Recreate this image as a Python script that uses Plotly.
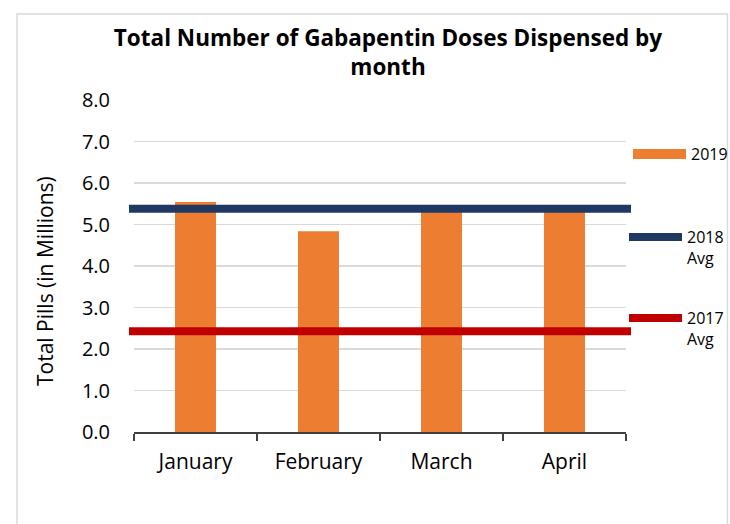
import plotly.graph_objects as go

months = ["January", "February", "March", "April"]
doses_2019 = [5.54, 4.84, 5.40, 5.38]
avg_2018 = [5.38, 5.38, 5.38, 5.38]
avg_2017 = [2.43, 2.43, 2.43, 2.43]
y_ticks = [0, 1, 2, 3, 4, 5, 6, 7, 8]
y_tick_labels = ["0.0", "1.0", "2.0", "3.0", "4.0", "5.0", "6.0", "7.0", "8.0"]

ORANGE = "#ED7D31"
NAVY = "#203864"
RED = "#C00000"
FONT = "Open Sans"

W, H = 730, 524
# plot area in page pixels: lines span 129..631, bars axis 134..626, y 100..432
L = 129
R = W - 631
T = 100
B = H - 432
pw = W - L - R
ph = H - T - B

fig = go.Figure()

fig.add_trace(go.Bar(
    x=months, y=doses_2019, marker_color=ORANGE, marker_line_width=0,
    showlegend=False, xaxis="x", yaxis="y", hoverinfo="skip",
))

fig.add_trace(go.Scatter(
    x=months, y=avg_2018, mode="lines", line=dict(color=NAVY, width=8),
    name="2018<br>Avg", xaxis="x2", yaxis="y2", legend="legend2",
))
fig.add_trace(go.Scatter(
    x=months, y=avg_2017, mode="lines", line=dict(color=RED, width=8),
    name="2017<br>Avg", xaxis="x2", yaxis="y2", legend="legend3",
))
# legend proxy for the 2019 bars (wide swatch as in the original)
fig.add_trace(go.Scatter(
    x=[None], y=[None], mode="lines", line=dict(color=ORANGE, width=10),
    name="2019", xaxis="x2", yaxis="y2", legend="legend",
))

leg_common = dict(font=dict(family=FONT, size=16, color="#000000"),
                  bgcolor="rgba(0,0,0,0)", borderwidth=0, itemwidth=53,
                  xref="container", yref="container",
                  xanchor="left", yanchor="top", valign="top")


def cx(p):
    return p / W


def cy(p):
    return 1 - p / H


def px_x(p):
    return (p - L) / pw


def px_y(p):
    return (H - B - p) / ph


fig.update_layout(
    template="none",
    width=W, height=H,
    margin=dict(l=L, r=R, t=T, b=B, autoexpand=False),
    paper_bgcolor="white", plot_bgcolor="rgba(0,0,0,0)",
    bargap=0.667,
    font=dict(family=FONT, color="#000000"),
    title=dict(
        text="<b>Total Number of Gabapentin Doses Dispensed by<br>month</b>",
        x=cx(388), xanchor="center", xref="container",
        y=cy(46), yanchor="middle", yref="container",
        font=dict(family=FONT, size=22.5, color="#000000"),
    ),
    xaxis=dict(
        domain=[(134 - 129) / pw, (626 - 129) / pw], type="category",
        categoryorder="array", categoryarray=months,
        showline=True, linecolor="#404040", linewidth=1.5,
        ticks="outside", tickson="boundaries", ticklen=7, tickcolor="#404040",
        tickwidth=1.5, showgrid=False, automargin=False,
        ticklabelstandoff=10,
        tickfont=dict(family=FONT, size=21, color="#000000"),
        anchor="y", fixedrange=True,
    ),
    yaxis=dict(
        range=[0, 8], tickvals=y_ticks, ticktext=y_tick_labels,
        showgrid=True, gridcolor="#D9D9D9", gridwidth=1.5,
        showline=False, ticks="", zeroline=False, automargin=False,
        ticklabelstandoff=23,
        tickfont=dict(family=FONT, size=20, color="#000000"),
        anchor="x", fixedrange=True,
    ),
    xaxis2=dict(
        domain=[0, 1], type="category", categoryorder="array",
        categoryarray=months, range=[0, 3], visible=False, anchor="y2",
    ),
    yaxis2=dict(range=[0, 8], visible=False, anchor="x2", domain=[0, 1]),
    legend=dict(x=cx(628), y=cy(137), **leg_common),
    legend2=dict(x=cx(624), y=cy(220), **leg_common),
    legend3=dict(x=cx(624), y=cy(301), **leg_common),
    annotations=[dict(
        text="Total Pills (in Millions)", textangle=-90,
        xref="paper", yref="paper", x=px_x(45), y=px_y(281),
        xanchor="center", yanchor="middle", showarrow=False,
        font=dict(family=FONT, size=21, color="#000000"),
    )],
    shapes=[dict(type="rect", xref="paper", yref="paper",
                 x0=px_x(17), x1=px_x(727.5), y0=px_y(540), y1=px_y(14),
                 line=dict(color="#D9D9D9", width=1.5), fillcolor="rgba(0,0,0,0)",
                 layer="above")],
)

fig.write_html(
    "out.html",
    config={"displayModeBar": False, "staticPlot": True},
    post_script="document.body.style.margin='0px';"
                "document.body.style.overflow='hidden';",
)
